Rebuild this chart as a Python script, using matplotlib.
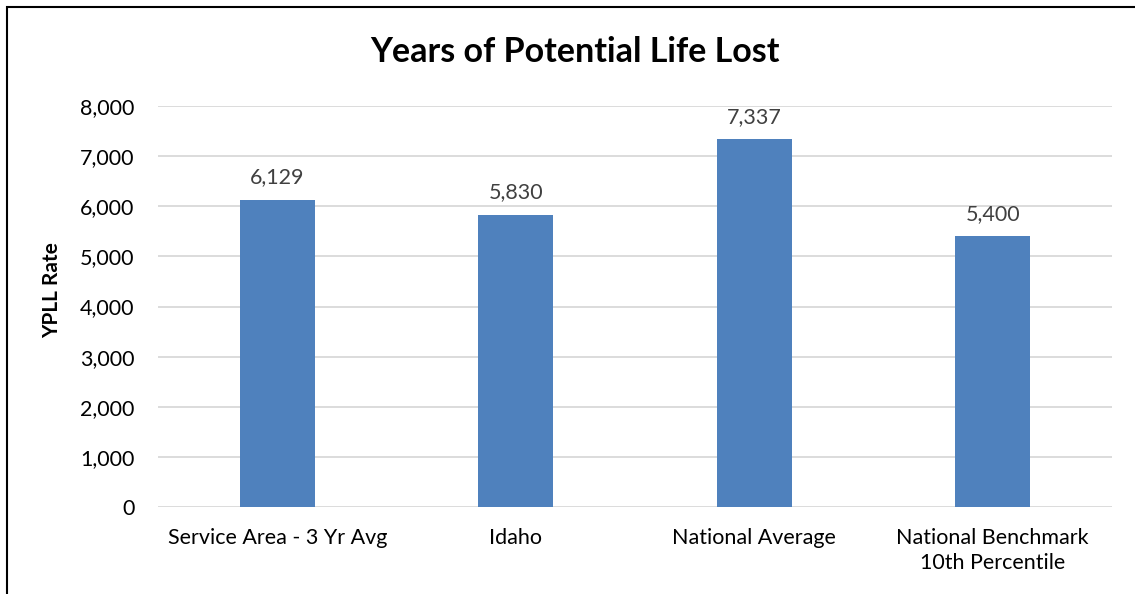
import matplotlib.pyplot as plt
from matplotlib.patches import Rectangle
from matplotlib.ticker import FuncFormatter

plt.rcParams['font.family'] = ['Lato', 'DejaVu Sans']

categories = ['Service Area - 3 Yr Avg', 'Idaho', 'National Average', 'National Benchmark\n10th Percentile']
values = [6129, 5830, 7337, 5400]
yticks = [0, 1000, 2000, 3000, 4000, 5000, 6000, 7000, 8000]

fig = plt.figure(figsize=(11.35, 5.94), dpi=100)
ax = fig.add_axes([158 / 1135, 1 - 507 / 594, (1112 - 158) / 1135, (507 - 106) / 594])

x = range(len(categories))
bars = ax.bar(x, values, width=0.315, color='#4F81BD', zorder=3)
for b, v in zip(bars, values):
    ax.text(b.get_x() + b.get_width() / 2, v + 250, f'{v:,}', ha='center', va='bottom',
            fontsize=15.5, color='#404040')

ax.set_xlim(-0.5, len(categories) - 0.5)
ax.set_ylim(0, 8000)
ax.set_yticks(yticks)
ax.yaxis.set_major_formatter(FuncFormatter(lambda v, p: f'{int(v):,}'))
ax.set_xticks(list(x))
ax.set_xticklabels(categories, linespacing=1.3)
ax.tick_params(axis='both', length=0, labelsize=15.5, colors='black')
ax.tick_params(axis='y', pad=17)
ax.tick_params(axis='x', pad=15)
ax.grid(axis='y', color='#D9D9D9', linewidth=1.3, zorder=0)
for s in ax.spines.values():
    s.set_visible(False)

ax.set_ylabel('YPLL Rate', fontsize=15, fontweight='bold')
ax.yaxis.set_label_coords(-0.101, 0.541)
fig.text(575 / 1135, 1 - 52 / 594, 'Years of Potential Life Lost', ha='center', va='center',
         fontsize=24.5, fontweight='bold')

fig.patches.append(Rectangle((7 / 1135, -0.1), 1.2, 1 - 7 / 594 + 0.1, transform=fig.transFigure,
                             fill=False, edgecolor='black', linewidth=1.5))

fig.savefig('out.png', dpi=100)
